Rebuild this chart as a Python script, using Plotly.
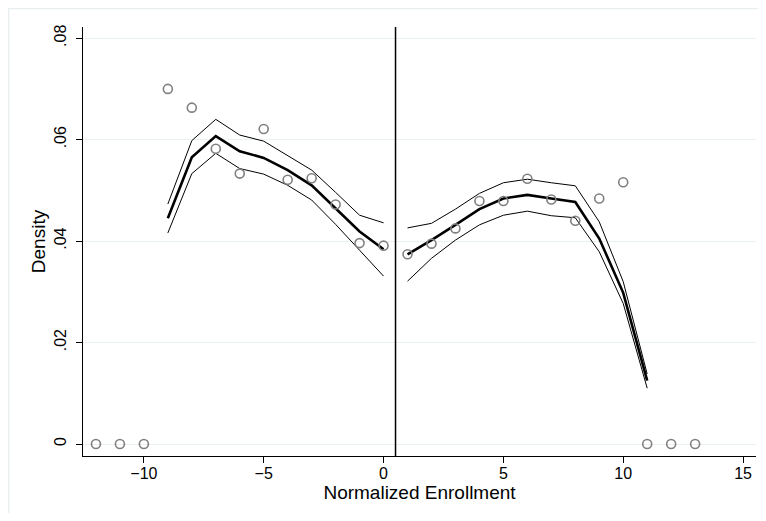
import plotly.graph_objects as go

# Binned density points
bin_x = [-12, -11, -10, -9, -8, -7, -6, -5, -4, -3, -2, -1, 0,
         1, 2, 3, 4, 5, 6, 7, 8, 9, 10, 11, 12, 13]
bin_y = [0.0, 0.0, 0.0, 0.0700, 0.0663, 0.0582, 0.0533, 0.0621, 0.0521, 0.0524, 0.0472, 0.0396, 0.0391,
         0.0374, 0.0395, 0.0425, 0.0479, 0.0479, 0.0523, 0.0482, 0.0440, 0.0484, 0.0516, 0.0, 0.0, 0.0]

# Left fit
left_x = [-9, -8, -7, -6, -5, -4, -3, -2, -1, 0]
left_fit = [0.0445, 0.0565, 0.0607, 0.0577, 0.0564, 0.0540, 0.0510, 0.0464, 0.0419, 0.0384]
left_hi = [0.0473, 0.0598, 0.0640, 0.0609, 0.0597, 0.0569, 0.0540, 0.0496, 0.0451, 0.0436]
left_lo = [0.0416, 0.0533, 0.0573, 0.0543, 0.0532, 0.0510, 0.0481, 0.0433, 0.0382, 0.0331]

# Right fit
right_x = [1, 2, 3, 4, 5, 6, 7, 8, 9, 10, 11]
right_fit = [0.0374, 0.0402, 0.0432, 0.0463, 0.0484, 0.0491, 0.0484, 0.0477, 0.0405, 0.0298, 0.0125]
right_hi = [0.0426, 0.0435, 0.0463, 0.0494, 0.0515, 0.0522, 0.0515, 0.0509, 0.0438, 0.0320, 0.0138]
right_lo = [0.0321, 0.0366, 0.0402, 0.0432, 0.0451, 0.0459, 0.0450, 0.0446, 0.0379, 0.0277, 0.0110]

cutoff = 0.5
x_ticks = [-10, -5, 0, 5, 10, 15]
y_ticks = [0, 0.02, 0.04, 0.06, 0.08]
y_ticktext = ["0", ".02", ".04", ".06", ".08"]

fig = go.Figure()

for xs, ys, w in [(left_x, left_hi, 1), (left_x, left_lo, 1), (left_x, left_fit, 2.6),
                  (right_x, right_hi, 1), (right_x, right_lo, 1), (right_x, right_fit, 2.6)]:
    fig.add_trace(go.Scatter(x=xs, y=ys, mode="lines",
                             line=dict(color="black", width=w), showlegend=False,
                             hoverinfo="skip"))

fig.add_trace(go.Scatter(x=bin_x, y=bin_y, mode="markers",
                         marker=dict(symbol="circle-open", size=9,
                                     color="#808080", line=dict(width=1.6, color="#808080")),
                         showlegend=False))

fig.add_vline(x=cutoff, line=dict(color="black", width=1.5))

# page has an 8px body margin; figure sized to fit the 766x521 window
W, H = 750, 505
ML, MR, MT, MB = 75, 2, 19, 57
PW, PH = W - ML - MR, H - MT - MB

# light outer frame (graph region border)
fig.add_shape(type="rect", xref="paper", yref="paper",
              x0=-(ML - 0.5) / PW, x1=(PW + MR + 20) / PW,
              y0=-(MB + 20) / PH, y1=1 + (MT - 0.5) / PH,
              line=dict(color="#E8EEF0", width=1.5), fillcolor="rgba(0,0,0,0)", layer="below")

fig.update_layout(
    width=W, height=H,
    margin=dict(l=ML, r=MR, t=MT, b=MB),
    paper_bgcolor="white", plot_bgcolor="white",
    font=dict(family="Liberation Sans, Arial, sans-serif", size=16, color="black"),
    xaxis=dict(range=[-12.54, 15.54], tickvals=x_ticks, ticks="outside", ticklen=6,
               tickcolor="black", showline=True, linecolor="black", linewidth=1.2,
               showgrid=False, zeroline=False, automargin=False, ticklabelstandoff=-3,
               title=dict(text="Normalized Enrollment", standoff=2),
               tickfont=dict(size=16)),
    yaxis=dict(range=[-0.00236, 0.0822], tickvals=y_ticks, ticktext=y_ticktext,
               tickangle=-90, ticks="outside", ticklen=6, tickcolor="black",
               showline=True, linecolor="black", linewidth=1.2,
               showgrid=True, gridcolor="#EAF1F3", gridwidth=1, zeroline=False,
               automargin=False, ticklabelstandoff=4,
               title=dict(text="Density", standoff=0),
               tickfont=dict(size=16)),
)

fig.write_html("out.html")
